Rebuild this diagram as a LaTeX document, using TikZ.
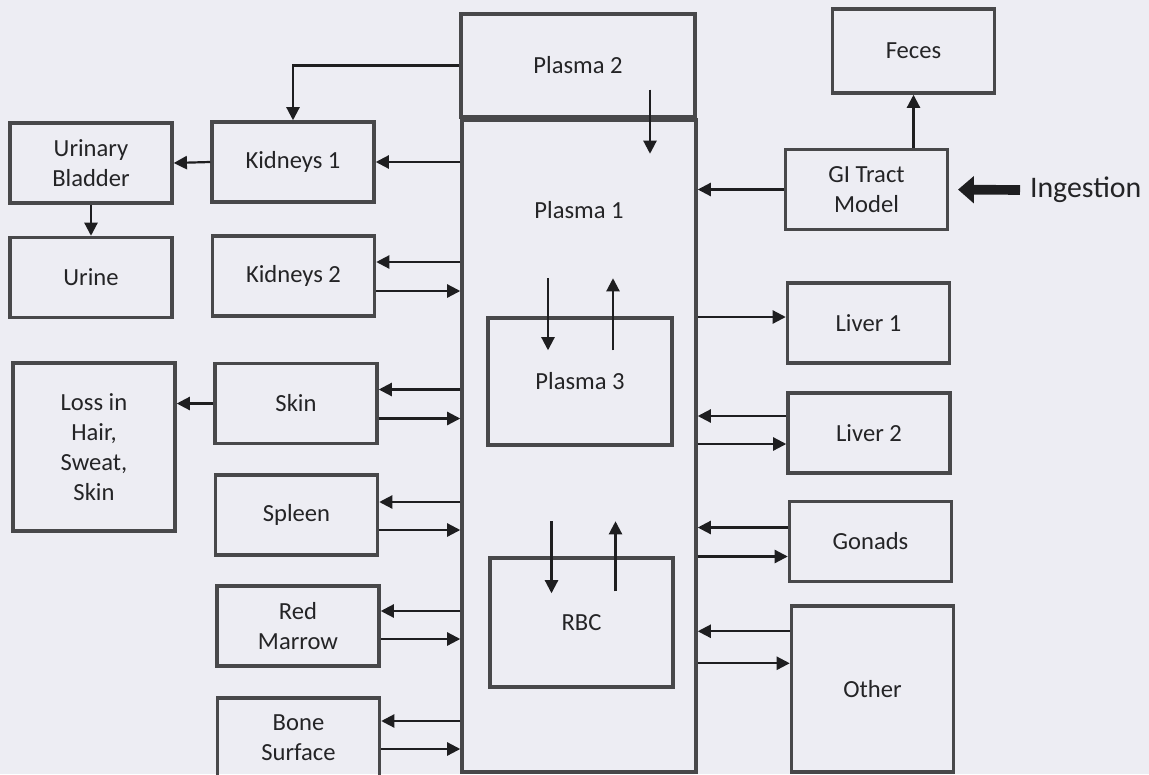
\documentclass[tikz,border=0pt]{standalone}
\usepackage{fontspec}
\setmainfont{Carlito}
\usetikzlibrary{
  arrows.meta,
  positioning,
  calc
}
\definecolor{paper}{RGB}{237,237,243}
\definecolor{boxline}{RGB}{72,72,74}
\definecolor{ink}{RGB}{30,30,32}
\definecolor{textgray}{RGB}{36,36,38}

\begin{document}
\begin{tikzpicture}[
  x=0.02cm, y=-0.02cm,
  organ/.style={draw=boxline, line width=2pt, minimum width=3.24cm, minimum height=1.6cm,
    align=center, text=textgray, font=\fontsize{14}{17}\selectfont, inner sep=2pt},
  pool/.style={organ, minimum width=#1},
  lbl/.style={text=textgray, font=\fontsize{14}{17}\selectfont},
  arrow/.style={-{Triangle[length=7.5pt,width=7.5pt]}, line width=1.25pt, draw=ink},
  intake/.style={-{Triangle[length=9pt,width=15pt]}, line width=5.5pt, draw=ink}
]
  % Page
  \fill[paper] (0,0) rectangle (1149,774);
  \clip (0,0) rectangle (1149,774);

  % Central plasma pools
  \node[pool=4.68cm, minimum height=13.04cm] (pone) at (579,446) {};
  \node[lbl] (ponetxt) at ($(pone.north)+(0,92)$) {Plasma 1};
  \node[pool=4.68cm, minimum height=2.06cm] (ptwo) at (578,65.5) {Plasma 2};
  \node[pool=3.68cm, minimum height=2.54cm] (pthree) at (580,381.5) {Plasma 3};
  \node[pool=3.66cm, minimum height=2.58cm] (rbc) at (581.5,622.5) {RBC};

  % Left organs
  \node[organ] (kidA) at (293,162) {Kidneys 1};
  \node[organ] (kidB) at (293.5,276) {Kidneys 2};
  \node[organ] (skin) at (296,403.5) {Skin};
  \node[organ] (spleen) at (296.5,515) {Spleen};
  \node[organ] (marrow) at (298,626) {Red\\Marrow};
  \node[organ] (bone) at (298.5,738) {Bone\\Surface};

  % Excretion
  \node[organ] (bladder) at (91,163) {Urinary\\Bladder};
  \node[organ] (urine) at (91,277.5) {Urine};
  \node[organ, minimum height=3.36cm] (loss) at (94,447) {Loss in\\Hair,\\Sweat,\\Skin};

  % Right organs
  \node[organ, minimum height=1.68cm] (feces) at (913.5,51) {Feces};
  \node[organ] (gi) at (866.5,189.5) {GI Tract\\Model};
  \node[organ] (liverA) at (868.5,323) {Liver 1};
  \node[organ] (liverB) at (869,433) {Liver 2};
  \node[organ] (gonads) at (870.5,541.5) {Gonads};
  \node[organ, minimum height=3.32cm] (other) at (872.5,689) {Other};

  % Intake
  \node[lbl, font=\fontsize{17}{20}\selectfont, anchor=west, inner sep=5.5pt] (ingest) at (1020,190) {Ingestion};

  % Arrows inside the plasma
  \draw[arrow] ($(ptwo.south)+(72,-29)$) -- ($(ptwo.south)+(72,35)$);
  \draw[arrow] ($(pthree.north)+(-32,-38)$) -- ($(pthree.north)+(-32,34)$);
  \draw[arrow] ($(pthree.north)+(33,34)$) -- ($(pthree.north)+(33,-38)$);
  \draw[arrow] ($(rbc.north)+(-30,-35)$) -- ($(rbc.north)+(-30,37)$);
  \draw[arrow] ($(rbc.north)+(34,35)$) -- ($(rbc.north)+(34,-35)$);

  % Kidneys and bladder
  \draw[arrow] (ptwo.west) -| (kidA.north);
  \draw[arrow] (pone.west |- kidA.east) -- (kidA.east);
  \draw[arrow] (kidA.west) -- (bladder.east);
  \draw[arrow] (bladder.south) -- (urine.north);
  \draw[arrow] (skin.west) -- (loss.east |- skin.west);

  % Left exchange
  \draw[arrow] ($(pone.west |- kidB.east)+(0,-14)$) -- ($(kidB.east)+(0,-14)$);
  \draw[arrow] ($(kidB.east)+(0,15)$) -- ($(pone.west |- kidB.east)+(0,15)$);
  \draw[arrow] ($(pone.west |- skin.east)+(0,-14)$) -- ($(skin.east)+(0,-14)$);
  \draw[arrow] ($(skin.east)+(0,15)$) -- ($(pone.west |- skin.east)+(0,15)$);
  \draw[arrow] ($(pone.west |- spleen.east)+(0,-13)$) -- ($(spleen.east)+(0,-13)$);
  \draw[arrow] ($(spleen.east)+(0,15)$) -- ($(pone.west |- spleen.east)+(0,15)$);
  \draw[arrow] ($(pone.west |- marrow.east)+(0,-15)$) -- ($(marrow.east)+(0,-15)$);
  \draw[arrow] ($(marrow.east)+(0,13)$) -- ($(pone.west |- marrow.east)+(0,13)$);
  \draw[arrow] ($(pone.west |- bone.east)+(0,-17)$) -- ($(bone.east)+(0,-17)$);
  \draw[arrow] ($(bone.east)+(0,11)$) -- ($(pone.west |- bone.east)+(0,11)$);

  % GI tract
  \draw[arrow] (gi.west) -- (gi.west -| pone.east);
  \draw[arrow] (feces.south |- gi.north) -- (feces.south);
  \draw[intake, shorten >=5pt] (ingest.west) -- (gi.east);

  % Right exchange
  \draw[arrow] ($(pone.east |- liverA.west)+(0,-6)$) -- ($(liverA.west)+(0,-6)$);
  \draw[arrow] ($(liverB.west)+(0,-17)$) -- ($(pone.east |- liverB.west)+(0,-17)$);
  \draw[arrow] ($(pone.east |- liverB.west)+(0,11)$) -- ($(liverB.west)+(0,11)$);
  \draw[arrow] ($(gonads.west)+(0,-14)$) -- ($(pone.east |- gonads.west)+(0,-14)$);
  \draw[arrow] ($(pone.east |- gonads.west)+(0,15)$) -- ($(gonads.west)+(0,15)$);
  \draw[arrow] ($(other.north west)+(0,27)$) -- ($(pone.east |- other.north west)+(0,27)$);
  \draw[arrow] ($(pone.east |- other.north west)+(0,59)$) -- ($(other.north west)+(0,59)$);
\end{tikzpicture}
\end{document}
